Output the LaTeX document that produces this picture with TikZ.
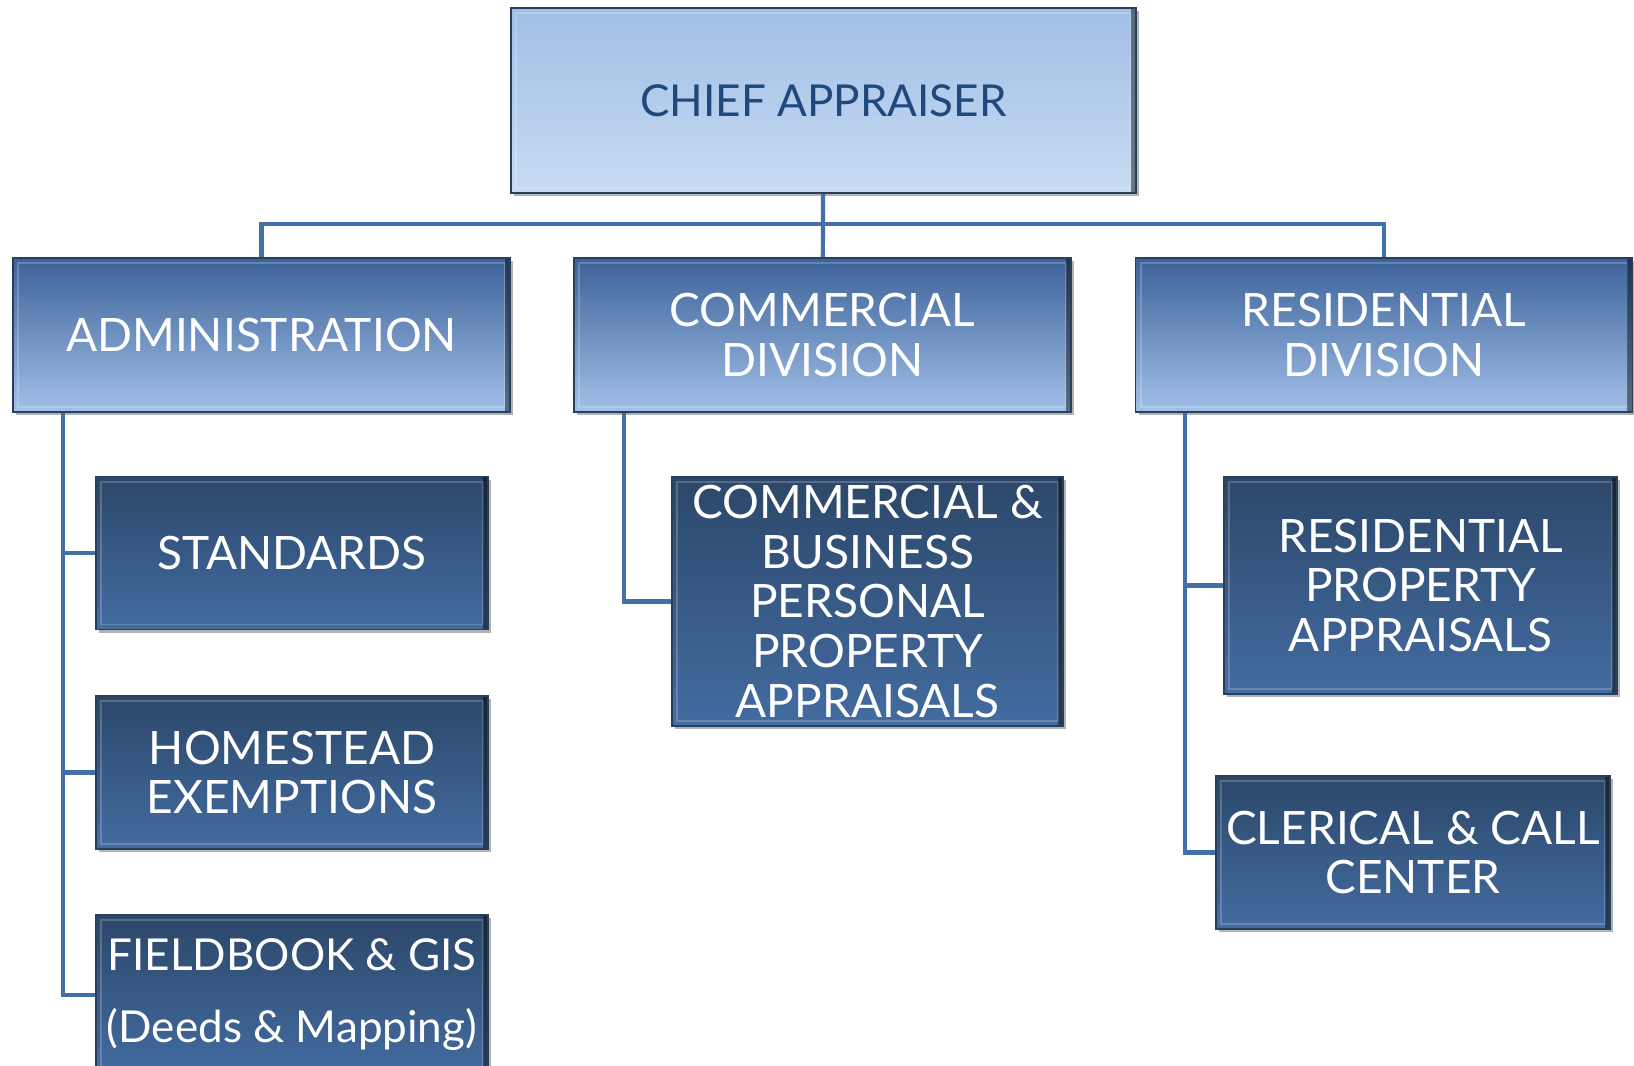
\documentclass[tikz,border=0pt]{standalone}
\usepackage{fontspec}
\setmainfont{Lato}
\usetikzlibrary{shadows}

\definecolor{chieftop}{HTML}{A1BEE5}
\definecolor{chiefbot}{HTML}{C7DBF3}
\definecolor{chieftext}{HTML}{1F487C}
\definecolor{depttop}{HTML}{3C6299}
\definecolor{deptbot}{HTML}{A2C0E8}
\definecolor{unittop}{HTML}{2C4769}
\definecolor{unitbot}{HTML}{436CA1}
\definecolor{boxedge}{HTML}{2A3F5C}
\definecolor{linkblue}{HTML}{4470A8}

\begin{document}
\begin{tikzpicture}[x=0.5pt, y=-0.5pt,
    box/.style={draw=boxedge, line width=0.9pt, align=center, inner sep=0pt,
        text=white, font=\fontsize{23}{24.8}\selectfont,
        drop shadow={shadow xshift=1.5pt, shadow yshift=-1.5pt, opacity=0.3, fill=black},
        path picture={
            \draw[white, opacity=0.2, line width=0.8pt]
                ([shift={(2.6pt,2.6pt)}]path picture bounding box.south west)
                rectangle ([shift={(-2.6pt,-2.6pt)}]path picture bounding box.north east);
            \fill[black, opacity=0.45]
                ([xshift=-2.6pt]path picture bounding box.south east)
                rectangle (path picture bounding box.north east);
        }},
    chief/.style={box, top color=chieftop, bottom color=chiefbot, text=chieftext,
        font=\fontsize{22}{24}\selectfont,
        minimum width=312.5pt, minimum height=92.5pt},
    dept/.style={box, top color=depttop, bottom color=deptbot,
        minimum width=248.5pt, minimum height=77pt},
    unit/.style={box, top color=unittop, bottom color=unitbot,
        minimum width=196pt, minimum height=76.5pt},
    link/.style={draw=linkblue, line width=2.1pt}
]
\useasboundingbox (0,0) rectangle (1634,1066);

% connectors
\coordinate (bus) at (823.5,224);
\node[chief] (chief) at (823.5,100.5) {CHIEF APPRAISER};
\node[dept] (admin) at (261.5,335) {ADMINISTRATION};
\node[dept] (comm) at (822.5,335) {COMMERCIAL\\DIVISION};
\node[dept] (resid) at (1384,335) {RESIDENTIAL\\DIVISION};

\draw[link] (chief) -- (comm);
\draw[link] (admin.north) |- (bus) -| (resid.north);

\node[unit] (standards) at (292,553) {STANDARDS};
\node[unit] (homestead) at (292,772.5) {HOMESTEAD\\EXEMPTIONS};
\node[unit, minimum height=80pt, font=\fontsize{22}{24}\selectfont] (fieldbook) at (292,995)
    {FIELDBOOK \& GIS\\[12pt](Deeds \& Mapping)};
\node[unit, minimum width=195.5pt, minimum height=124.5pt] (cbpp) at (867.5,601.5)
    {COMMERCIAL \&\\BUSINESS\\PERSONAL\\PROPERTY\\APPRAISALS};
\node[unit, minimum width=196.5pt, minimum height=108.5pt] (rpa) at (1420.5,585.5)
    {RESIDENTIAL\\PROPERTY\\APPRAISALS};
\node[unit, minimum width=197pt] (clerical) at (1413,852.5) {CLERICAL \& CALL\\CENTER};

% branch lines
\draw[link] ([xshift=25.5pt]admin.south west) |- (standards.west);
\draw[link] ([xshift=25.5pt]admin.south west) |- (homestead.west);
\draw[link] ([xshift=25.5pt]admin.south west) |- (fieldbook.west);
\draw[link] ([xshift=25.5pt]comm.south west) |- (cbpp.west);
\draw[link] ([xshift=25pt]resid.south west) |- (rpa.west);
\draw[link] ([xshift=25pt]resid.south west) |- (clerical.west);
\end{tikzpicture}
\end{document}
